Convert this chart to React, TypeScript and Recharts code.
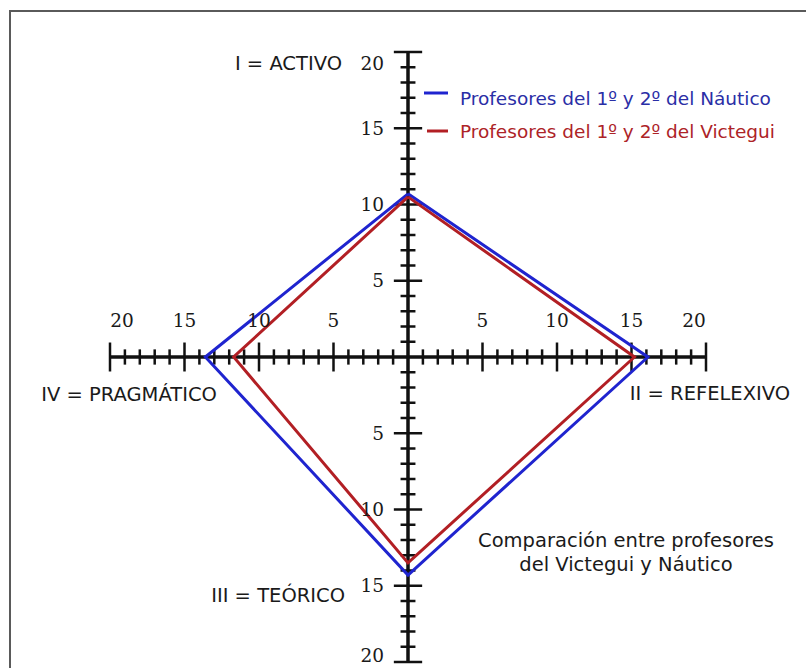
import { ComposedChart, Line, XAxis, YAxis, ReferenceLine, ReferenceDot, Legend } from 'recharts';

const categories = ['I = ACTIVO', 'II = REFELEXIVO', 'III = TEÓRICO', 'IV = PRAGMÁTICO'];
const nauticoValues = [10.7, 16.1, 14.3, 13.6];
const victeguiValues = [10.5, 15.2, 13.5, 11.7];
const seriesNames = ['Profesores del 1º y 2º del Náutico', 'Profesores del 1º y 2º del Victegui'];
const tickLabels = [5, 10, 15, 20];
const axisMax = 20;
const annotationLines = ['Comparación entre profesores', 'del Victegui y Náutico'];

// where each style sits on the cross: I up, II right, III down, IV left
const directions = [
    [0, 1],
    [1, 0],
    [0, -1],
    [-1, 0],
];

const toPolygon = (values: number[]) => {
    const pts = values.map((v, i) => ({ x: directions[i][0] * v, y: directions[i][1] * v }));
    return [...pts, pts[0]];
};

const nauticoPoints = toPolygon(nauticoValues);
const victeguiPoints = toPolygon(victeguiValues);

const unitSteps = Array.from({ length: axisMax }, (_, i) => i + 1);
const tickPositions = unitSteps.flatMap((v) => [v, -v]);

const AXIS = '#111';
const BLUE = '#1f24cf';
const RED = '#b21f24';
const legendTextColors = ['#2a2ea6', '#ad2327'];
const numFont = { fontFamily: '"DejaVu Serif", serif', fontSize: 18.5, fill: '#1a1a1a' };
const textFont = { fontFamily: '"DejaVu Sans", sans-serif', fontSize: 19.5, fill: '#1a1a1a' };

// label placement relative to the axis end it belongs to
const categoryLabelStyle = [
    { dx: -66, dy: 18, anchor: 'end' },
    { dx: 4, dy: 43, anchor: 'middle' },
    { dx: -63, dy: -60, anchor: 'end' },
    { dx: 19, dy: 44, anchor: 'middle' },
];

const renderLegend = (props: any) => {
    const payload = props.payload || [];
    return (
        <svg width={380} height={70}>
            {payload.map((entry: any, i: number) => (
                <g key={`leg-${i}`}>
                    <line x1={6 + i * 3} x2={30} y1={13 + i * 38} y2={13 + i * 38} stroke={entry.color} strokeWidth={3} />
                    <text x={42} y={25 + i * 33} style={{ ...textFont, fontSize: 18.5, fill: legendTextColors[i] }}>
                        {entry.value}
                    </text>
                </g>
            ))}
        </svg>
    );
};

const App = () => {
    return (
        <div style={{ position: 'absolute', left: 0, top: 0, width: 806, height: 668, background: '#fff', overflow: 'hidden' }}>
            <div style={{ position: 'absolute', left: 9, top: 10, right: 0, height: 2, background: '#5a5a5a' }} />
            <div style={{ position: 'absolute', left: 9, top: 10, bottom: 0, width: 2, background: '#5a5a5a' }} />

            <ComposedChart width={806} height={668} margin={{ top: 52, right: 100, bottom: 6, left: 110 }}>
                <XAxis type="number" dataKey="x" domain={[-axisMax, axisMax]} allowDataOverflow hide />
                <YAxis type="number" dataKey="y" domain={[-axisMax, axisMax]} allowDataOverflow hide />

                <ReferenceLine segment={[{ x: -axisMax, y: 0 }, { x: axisMax, y: 0 }]} stroke={AXIS} strokeWidth={3.5} />
                <ReferenceLine segment={[{ x: 0, y: -axisMax }, { x: 0, y: axisMax }]} stroke={AXIS} strokeWidth={3.5} />

                {tickPositions.map((v) => {
                    const h = v % 5 === 0 ? 0.95 : 0.5;
                    return (
                        <ReferenceLine
                            key={`hx-${v}`}
                            segment={[{ x: v, y: -h }, { x: v, y: h }]}
                            stroke={AXIS}
                            strokeWidth={2.5}
                        />
                    );
                })}
                {tickPositions.map((v) => {
                    const h = v % 5 === 0 ? 0.95 : 0.5;
                    return (
                        <ReferenceLine
                            key={`vy-${v}`}
                            segment={[{ x: -h, y: v }, { x: h, y: v }]}
                            stroke={AXIS}
                            strokeWidth={2.5}
                        />
                    );
                })}

                {tickLabels.flatMap((t) => [t, -t]).map((v) => (
                    <ReferenceDot
                        key={`lx-${v}`}
                        x={v}
                        y={0}
                        r={0}
                        shape={(p: any) => (
                            <text
                                x={p.cx + (Math.abs(v) === axisMax ? -Math.sign(v) * 12 : 0)}
                                y={p.cy - 30}
                                textAnchor="middle"
                                style={numFont}
                            >
                                {Math.abs(v)}
                            </text>
                        )}
                    />
                ))}
                {tickLabels.flatMap((t) => [t, -t]).map((v) => (
                    <ReferenceDot
                        key={`ly-${v}`}
                        x={0}
                        y={v}
                        r={0}
                        shape={(p: any) => (
                            <text
                                x={p.cx - 24}
                                y={p.cy + (v === axisMax ? 18 : v === -axisMax ? 0 : 6.5)}
                                textAnchor="end"
                                style={numFont}
                            >
                                {Math.abs(v)}
                            </text>
                        )}
                    />
                ))}

                {categories.map((c, i) => (
                    <ReferenceDot
                        key={`cat-${i}`}
                        x={directions[i][0] * axisMax}
                        y={directions[i][1] * axisMax}
                        r={0}
                        shape={(p: any) => (
                            <text
                                x={p.cx + categoryLabelStyle[i].dx}
                                y={p.cy + categoryLabelStyle[i].dy}
                                textAnchor={categoryLabelStyle[i].anchor as any}
                                style={textFont}
                            >
                                {c}
                            </text>
                        )}
                    />
                ))}

                <Line
                    data={nauticoPoints}
                    dataKey="y"
                    name={seriesNames[0]}
                    stroke={BLUE}
                    strokeWidth={3}
                    dot={false}
                    activeDot={false}
                    isAnimationActive={false}
                />
                <Line
                    data={victeguiPoints}
                    dataKey="y"
                    name={seriesNames[1]}
                    stroke={RED}
                    strokeWidth={3}
                    dot={false}
                    activeDot={false}
                    isAnimationActive={false}
                />

                <Legend
                    layout="vertical"
                    align="center"
                    verticalAlign="middle"
                    content={renderLegend}
                    wrapperStyle={{ top: 80, left: 418, width: 380, height: 70 }}
                />
            </ComposedChart>

            <svg width={806} height={668} style={{ position: 'absolute', left: 0, top: 0, pointerEvents: 'none' }}>
                {annotationLines.map((line, i) => (
                    <text key={`ann-${i}`} x={626} y={547 + i * 24} textAnchor="middle" style={textFont}>
                        {line}
                    </text>
                ))}
            </svg>
        </div>
    );
};

export default App;
